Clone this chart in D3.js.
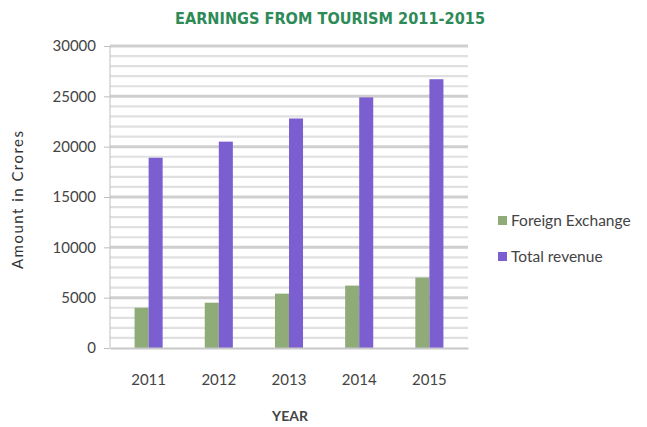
<!DOCTYPE html>
<html><head><meta charset="utf-8">
<script src="https://cdn.jsdelivr.net/npm/d3@7"></script>
<style>body{margin:0;background:#fff}svg{display:block}</style>
</head><body>
<svg id="c" width="647" height="427"></svg>
<script>
const years = ["2011","2012","2013","2014","2015"];
const foreignExchange = [4000, 4500, 5400, 6200, 7000];
const totalRevenue = [18900, 20500, 22800, 24900, 26700];
const seriesNames = ["Foreign Exchange", "Total revenue"];
const yTicks = [0, 5000, 10000, 15000, 20000, 25000, 30000];

const svg = d3.select("#c");
const m = {l:110, r:468, t:46, b:348};
const x = d3.scaleBand().domain(years).range([m.l, m.r]).paddingInner(0.6).paddingOuter(0.35);
const xs = d3.scaleBand().domain(seriesNames).range([0, x.bandwidth()]);
const y = d3.scaleLinear().domain([0, 30000]).range([m.b, m.t]);
const colors = ["#8fab78", "#7b5fd0"];
const font = "Lato, 'Open Sans', sans-serif";

// gridlines (minor every 1000, major every 5000)
const g = svg.append("g");
g.selectAll("line").data(d3.range(1000, 30001, 1000)).join("line")
  .attr("x1", m.l).attr("x2", m.r).attr("y1", d=>y(d)).attr("y2", d=>y(d))
  .attr("stroke", d => d%5000===0 ? "#cfcfcf" : "#e0e0e0")
  .attr("stroke-width", d => d%5000===0 ? 3 : 2.2);

// bars
const data = [foreignExchange, totalRevenue];
years.forEach((yr, i) => {
  seriesNames.forEach((s, j) => {
    svg.append("rect")
      .attr("x", x(yr) + xs(s))
      .attr("width", xs.bandwidth())
      .attr("y", y(data[j][i]))
      .attr("height", y(0) - y(data[j][i]))
      .attr("fill", colors[j]);
  });
});

// y axis
const ya = svg.append("g").attr("transform", `translate(${m.l},0)`)
  .call(d3.axisLeft(y).tickValues(yTicks).tickSize(6).tickPadding(8).tickFormat(d3.format("d")));
ya.select(".domain").attr("stroke", "#bfbfbf").attr("d", `M-0,${m.t}V${m.b}`);
ya.selectAll(".tick line").attr("stroke", "#bfbfbf");
ya.selectAll("text").attr("font-family", font).attr("font-size", 15).attr("fill", "#444");

// x axis
const xa = svg.append("g").attr("transform", `translate(0,${m.b})`)
  .call(d3.axisBottom(x).tickSize(0).tickPadding(26));
xa.select(".domain").attr("stroke", "#c8c8c8").attr("stroke-width", 2);
xa.selectAll("text").attr("font-family", font).attr("font-size", 15).attr("fill", "#444");

// title
svg.append("text").attr("x", 330).attr("y", 24).attr("text-anchor", "middle")
  .attr("font-family", "'DejaVu Sans Condensed', 'DejaVu Sans', sans-serif")
  .attr("font-weight", "bold").attr("font-size", 15).attr("fill", "#2e8b57")
  .attr("textLength", 310).attr("lengthAdjust", "spacingAndGlyphs")
  .text("EARNINGS FROM TOURISM 2011-2015");

// axis titles
svg.append("text").attr("transform", "translate(23,200) rotate(-90)").attr("text-anchor", "middle")
  .attr("font-family", font).attr("font-size", 15).attr("fill", "#333")
  .attr("textLength", 138).attr("lengthAdjust", "spacing").text("Amount in Crores");
svg.append("text").attr("x", 290).attr("y", 421).attr("text-anchor", "middle")
  .attr("font-family", font).attr("font-weight", "bold").attr("font-size", 14).attr("fill", "#444").text("YEAR");

// legend
const lg = svg.append("g");
seriesNames.forEach((s, j) => {
  const yy = 222 + j*36;
  lg.append("rect").attr("x", 498).attr("y", yy-6).attr("width", 9).attr("height", 9).attr("fill", colors[j]);
  lg.append("text").attr("x", 511).attr("y", yy+4).attr("font-family", font).attr("font-size", 15.5)
    .attr("fill", "#444").text(s);
});
</script>
</body></html>
